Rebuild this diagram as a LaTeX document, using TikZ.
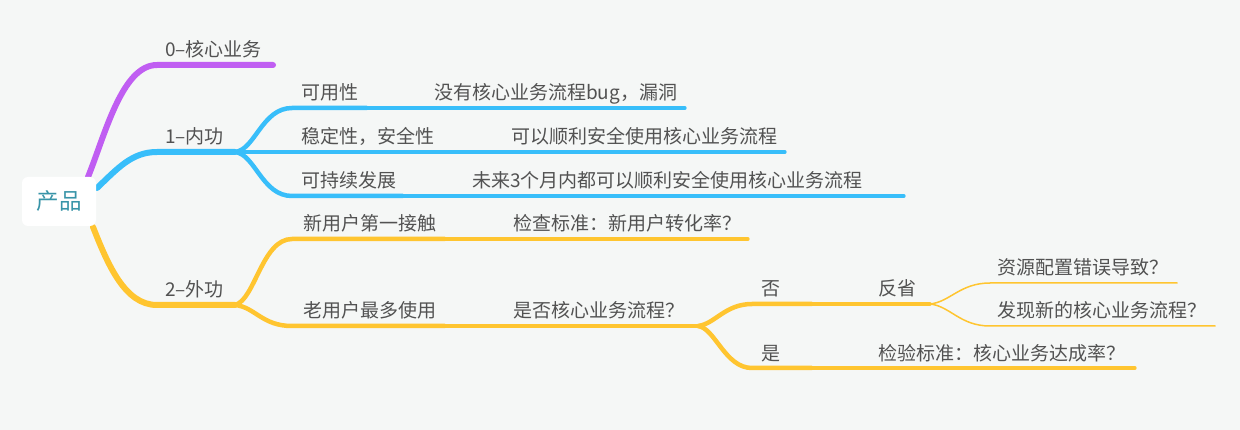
\documentclass[tikz,border=0pt]{standalone}
\usepackage{fontspec}
\setmainfont{Noto Sans CJK SC}
\definecolor{bg}{RGB}{245,247,246}
\definecolor{purp}{RGB}{192,94,242}
\definecolor{blu}{RGB}{56,190,250}
\definecolor{yel}{RGB}{255,197,48}
\definecolor{txt}{RGB}{82,82,82}
\definecolor{rootc}{RGB}{56,148,168}
\begin{document}
\begin{tikzpicture}[x=1pt,y=-1pt,
  lab/.style={anchor=base west, inner sep=0pt, text=txt, font=\fontsize{19}{21}\selectfont},
  lone/.style={line width=5.5pt, line cap=round, line join=round},
  ltwo/.style={line width=4.5pt, line join=round},
  lthree/.style={line width=3.3pt, line cap=round},
  lfour/.style={line width=1.5pt, line cap=round},
  rootbox/.style={fill=white, rounded corners=6pt, minimum width=74pt, minimum height=49pt, inner sep=0pt, text=rootc, font=\fontsize{22.5}{24}\selectfont}
]
\fill[bg] (0,0) rectangle (1240,430);
\useasboundingbox (0,0) rectangle (1240,430);

% coordinates
\coordinate (p0) at (88,177);  \coordinate (p1) at (157,65);  \coordinate (p2) at (273,65);
\coordinate (b0) at (97,188);  \coordinate (b1) at (157,152); \coordinate (bI) at (235,152);
\coordinate (y0) at (93,227);  \coordinate (y1) at (157,305); \coordinate (yI) at (235,305);

\coordinate (bu1) at (292,108); \coordinate (bu2) at (367,108); \coordinate (bu3) at (685,108);
\coordinate (bm2) at (442,152); \coordinate (bm3) at (785,152);
\coordinate (bd1) at (292,196); \coordinate (bd2) at (403,196); \coordinate (bd3) at (904,196);

\coordinate (yu1) at (292,239); \coordinate (yu2) at (445,239); \coordinate (yu3) at (748,239);
\coordinate (yd1) at (292,326); \coordinate (yd2) at (445,326); \coordinate (yJ) at (698,326);
\coordinate (n1) at (752,304); \coordinate (n2) at (812,304); \coordinate (nJ) at (930,304);
\coordinate (s1) at (752,368); \coordinate (s2) at (812,368); \coordinate (s3) at (1135,368);
\coordinate (r1) at (990,283); \coordinate (r2) at (1177,283);
\coordinate (f1) at (990,326); \coordinate (f2) at (1215,326);

% main branches
\draw[lone,purp,line width=6pt] (p0) .. controls (105,135) and (122,65) .. (p1) -- (p2);
\draw[lone,blu,line width=6pt] (b0) .. controls (118,168) and (132,152) .. (b1) -- (bI);
\draw[lone,yel,line width=6pt] (y0) .. controls (108,265) and (125,305) .. (y1) -- (yI);

% blue sub-branches
\draw[ltwo,blu] (bI) .. controls (255,150) and (262,108) .. (bu1) -- (bu2);
\draw[lthree,blu] (bu2) -- (bu3);
\draw[ltwo,blu] (bI) -- (bm2);
\draw[lthree,blu] (bm2) -- (bm3);
\draw[ltwo,blu] (bI) .. controls (255,154) and (262,196) .. (bd1) -- (bd2);
\draw[lthree,blu] (bd2) -- (bd3);

% yellow sub-branches
\draw[ltwo,yel] (yI) .. controls (255,300) and (262,239) .. (yu1) -- (yu2);
\draw[lthree,yel] (yu2) -- (yu3);
\draw[ltwo,yel] (yI) .. controls (255,307) and (262,326) .. (yd1) -- (yd2);
\draw[lthree,yel] (yd2) -- (yJ);
\draw[ltwo,yel] (yJ) .. controls (715,324) and (725,304) .. (n1) -- (n2);
\draw[lthree,yel] (n2) -- (nJ);
\draw[ltwo,yel] (yJ) .. controls (715,328) and (725,368) .. (s1) -- (s2);
\draw[lthree,yel] (s2) -- (s3);
\draw[lfour,yel] (nJ) .. controls (950,302) and (960,283) .. (r1) -- (r2);
\draw[lfour,yel] (nJ) .. controls (950,306) and (960,326) .. (f1) -- (f2);

% root
\node[rootbox] (root) at (59,201.5) {产品};

% labels
\node[lab] (t0) at (165,57) {0–核心业务};
\node[lab] (t1) at (165,144) {1–内功};
\node[lab] (t2) at (165,297) {2–外功};
\node[lab] (t11) at (301,100) {可用性};
\node[lab] (t111) at (434,100) {没有核心业务流程bug，漏洞};
\node[lab] (t12) at (301,144) {稳定性，安全性};
\node[lab] (t121) at (511,144) {可以顺利安全使用核心业务流程};
\node[lab] (t13) at (301,188) {可持续发展};
\node[lab] (t131) at (472,188) {未来3个月内都可以顺利安全使用核心业务流程};
\node[lab] (t21) at (303,231) {新用户第一接触};
\node[lab] (t211) at (513,231) {检查标准：新用户转化率？};
\node[lab] (t22) at (303,318) {老用户最多使用};
\node[lab] (t221) at (513,318) {是否核心业务流程？};
\node[lab] (tno) at (761,296) {否};
\node[lab] (tfx) at (878,296) {反省};
\node[lab] (tyes) at (761,360) {是};
\node[lab] (tjy) at (878,360) {检验标准：核心业务达成率？};
\node[lab] (tzy) at (997,275) {资源配置错误导致？};
\node[lab] (tfx2) at (997,318) {发现新的核心业务流程？};
\end{tikzpicture}
\end{document}
